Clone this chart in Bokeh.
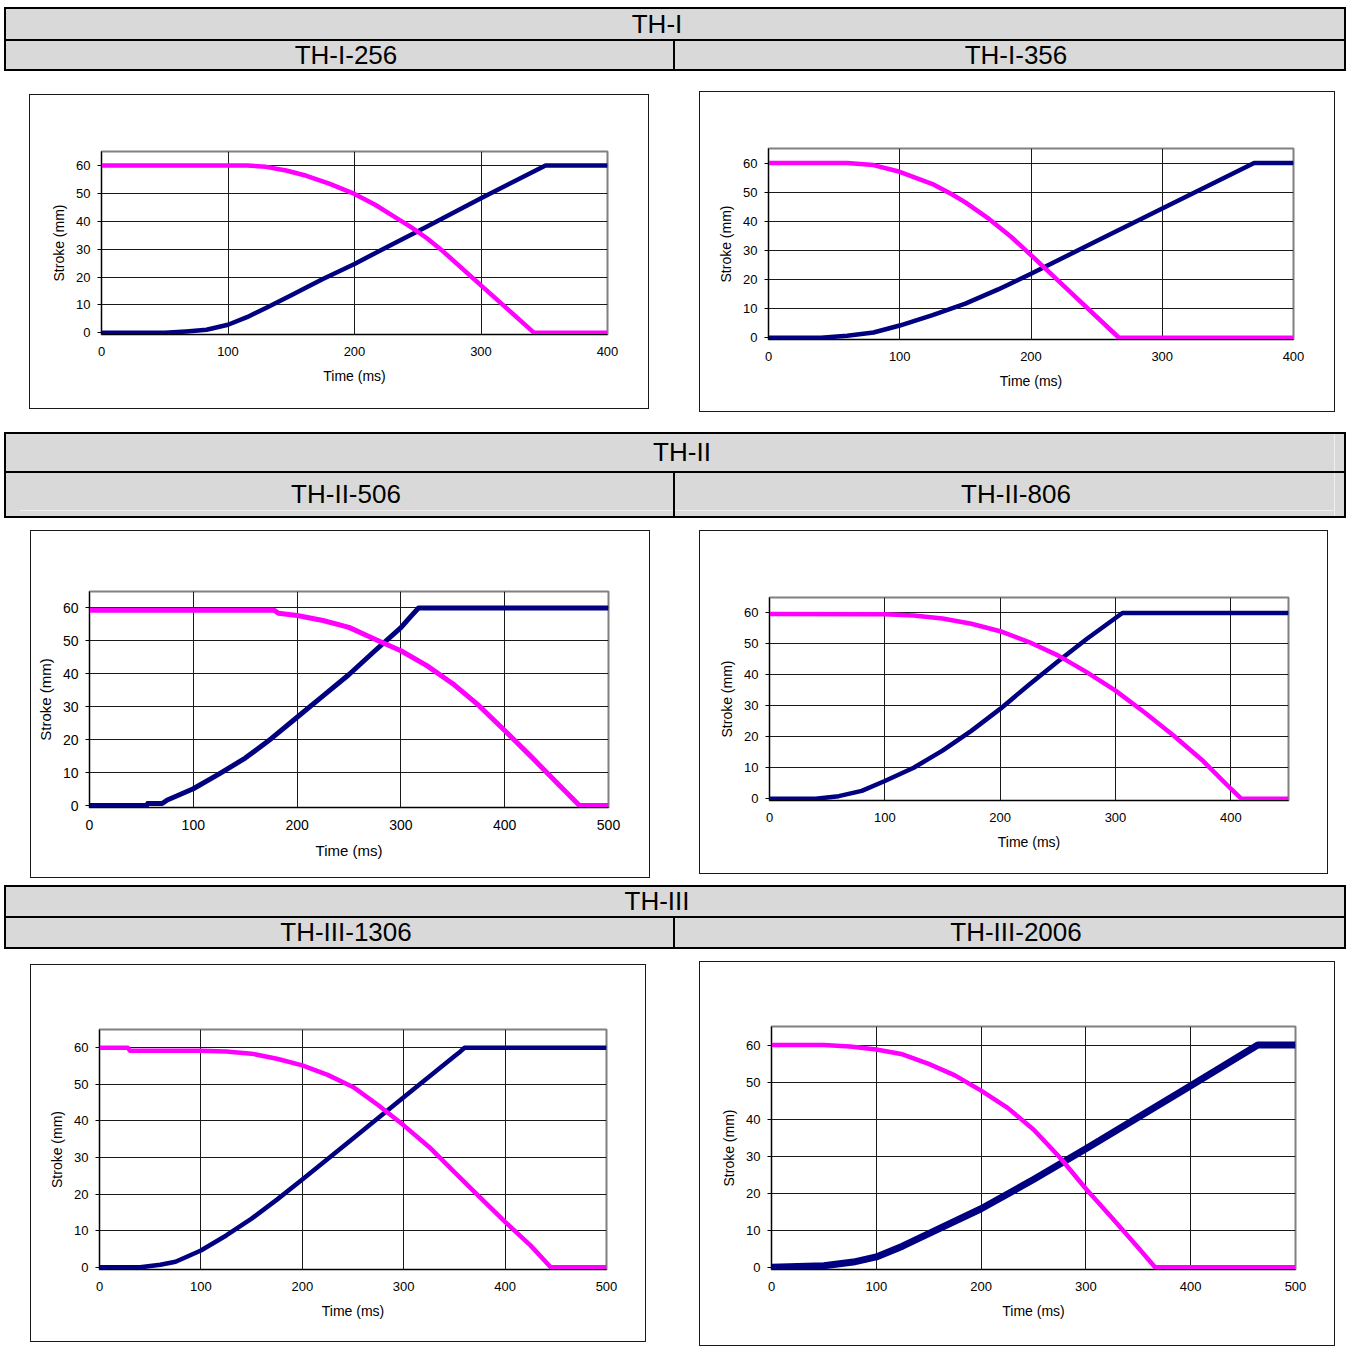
from bokeh.plotting import figure
from bokeh.models import Div, Spacer, Range1d, FixedTicker
from bokeh.layouts import column, row
from bokeh.embed import file_html
from bokeh.resources import INLINE

# ---------------- data (time in ms, stroke in mm) ----------------
th1_256_blue_t = [0, 50, 67, 83, 100, 115, 130, 150, 175, 200, 225, 257, 300, 351, 400]
th1_256_blue_s = [0, 0, 0.5, 1.1, 2.9, 5.6, 8.9, 13.5, 19.3, 24.7, 30.6, 38.0, 48.2, 60, 60]
th1_256_mag_t = [0, 115, 130, 146, 162, 180, 200, 216, 232, 245, 257, 270, 300, 342, 400]
th1_256_mag_s = [60, 60, 59.5, 58.2, 56.3, 53.5, 49.8, 46, 41.5, 37.8, 34.0, 29.2, 17, 0, 0]

th1_356_blue_t = [0, 40, 60, 80, 100, 125, 150, 175, 200, 250, 300, 370, 400]
th1_356_blue_s = [0, 0, 0.7, 1.8, 4.2, 7.8, 11.7, 16.6, 22, 33.2, 44.4, 60, 60]
th1_356_mag_t = [0, 60, 80, 100, 125, 140, 150, 168, 185, 200, 230, 267, 400]
th1_356_mag_s = [60, 60, 59.3, 57, 52.8, 49.2, 46.5, 40.8, 34.6, 28.4, 15.7, 0, 0]

th2_506_blue_t = [0, 55, 56, 70, 75, 100, 125, 150, 175, 200, 225, 250, 275, 300, 310, 317, 500]
th2_506_blue_s = [0, 0, 0.6, 0.6, 1.7, 5.1, 9.6, 14.4, 20.3, 26.8, 33.3, 39.8, 47.0, 54.0, 57.6, 60, 60]
th2_506_mag_t = [0, 178, 182, 200, 225, 250, 275, 300, 325, 350, 375, 400, 425, 450, 472, 500]
th2_506_mag_s = [59.3, 59.3, 58.4, 57.7, 56.2, 54.1, 50.5, 47, 42.5, 37, 30.4, 22.8, 15, 7, 0, 0]

th2_806_blue_t = [0, 40, 60, 80, 100, 125, 150, 175, 200, 225, 250, 275, 306, 450]
th2_806_blue_s = [0, 0, 0.8, 2.5, 5.7, 10, 15.5, 21.9, 29, 36.8, 44.3, 51.6, 60, 60]
th2_806_mag_t = [0, 100, 125, 150, 175, 200, 225, 250, 275, 300, 325, 350, 375, 400, 409, 450]
th2_806_mag_s = [59.7, 59.6, 59.2, 58.2, 56.5, 54.1, 50.6, 46.3, 40.9, 34.9, 27.9, 20.5, 12.5, 3.2, 0, 0]

th3_1306_blue_t = [0, 40, 60, 75, 100, 125, 150, 175, 200, 250, 300, 350, 356, 360, 500]
th3_1306_blue_s = [0, 0, 0.7, 1.5, 4.6, 8.7, 13.3, 18.5, 24, 35.2, 46.5, 57.7, 59, 60, 60]
th3_1306_mag_t = [0, 28, 30, 100, 125, 150, 175, 200, 225, 250, 275, 300, 325, 350, 375, 400, 425, 445, 500]
th3_1306_mag_s = [60, 60, 59.2, 59.2, 59, 58.4, 57, 55.2, 52.6, 49.3, 44.3, 38.8, 32.9, 26, 19.2, 12.4, 6, 0, 0]

th3_2006_blue_t = [0, 50, 78, 100, 125, 150, 200, 250, 300, 350, 400, 464, 500]
th3_2006_blue_s = [0, 0.4, 1.4, 2.8, 5.7, 9.1, 15.8, 23.7, 32, 40.5, 49, 60, 60]
th3_2006_mag_t = [0, 50, 75, 100, 125, 150, 175, 200, 225, 250, 275, 300, 325, 350, 366, 500]
th3_2006_mag_s = [60, 60, 59.6, 58.8, 57.5, 54.9, 51.8, 47.7, 43.1, 37.2, 29.7, 21.2, 13.3, 5.3, 0, 0]

stroke_ticks = [0, 10, 20, 30, 40, 50, 60]
time_ticks_400 = [0, 100, 200, 300, 400]
time_ticks_500 = [0, 100, 200, 300, 400, 500]

group_titles = ["TH-I", "TH-II", "TH-III"]
chart_titles = [["TH-I-256", "TH-I-356"], ["TH-II-506", "TH-II-806"], ["TH-III-1306", "TH-III-2006"]]

# ---------------- styling ----------------
NAVY = "#000080"
MAGENTA = "#FF00FF"
FONT = "Liberation Sans"
HEAD_BG = "#D9D9D9"
HEAD_X = 4
W = 1342


def make_chart(box, frame, xmax, xticks, bt, bs, mt, ms, blue_w=4.5, mag_w=4.5,
               tick_size="13px", title_size="14px"):
    L, T, R, B = box
    fl, ft, fr, fb = frame
    w = R - L + 1
    h = B - T + 1
    p = figure(width=w, height=h, output_backend="svg", toolbar_location=None,
               x_range=Range1d(0, xmax), y_range=Range1d(-0.6, 65),
               min_border_left=fl - L - 1, min_border_right=R - fr + 2,
               min_border_top=ft - T - 1, min_border_bottom=B - fb)
    p.styles = {"border": "1px solid #1a1a1a"}
    p.background_fill_color = "white"
    p.border_fill_color = "white"
    p.outline_line_color = "#808080"
    p.outline_line_width = 2

    p.xaxis.ticker = FixedTicker(ticks=xticks)
    p.yaxis.ticker = FixedTicker(ticks=stroke_ticks)
    p.xgrid.ticker = FixedTicker(ticks=[t for t in xticks if 0 < t < xmax])
    p.ygrid.ticker = FixedTicker(ticks=[t for t in stroke_ticks if t > 0])
    for g in (p.xgrid[0], p.ygrid[0]):
        g.grid_line_color = "#1a1a1a"
        g.grid_line_width = 1

    p.xaxis.axis_label = "Time (ms)"
    p.yaxis.axis_label = "Stroke (mm)"
    for ax in (p.xaxis[0], p.yaxis[0]):
        ax.axis_line_color = "black"
        ax.axis_line_width = 1
        ax.minor_tick_line_color = None
        ax.major_tick_line_color = "black"
        ax.major_tick_in = 0
        ax.major_label_text_font = FONT
        ax.major_label_text_font_size = tick_size
        ax.major_label_text_color = "black"
        ax.axis_label_text_font = FONT
        ax.axis_label_text_font_size = title_size
        ax.axis_label_text_font_style = "normal"
        ax.axis_label_text_color = "black"
    p.yaxis.major_tick_out = 4
    p.yaxis.major_label_standoff = 7
    p.yaxis.axis_label_standoff = 6
    p.xaxis.major_tick_out = 0
    p.xaxis.major_label_standoff = 12
    p.xaxis.axis_label_standoff = 9

    p.line(bt, bs, line_color=NAVY, line_width=blue_w, line_join="round")
    p.line(mt, ms, line_color=MAGENTA, line_width=mag_w, line_join="round")
    return p, L, T, w, h


def header(h, top_bar_end, title, title_cx, highlight=False):
    parts = []

    def rect(x, y, w, hh, color):
        parts.append(f'<div style="position:absolute;left:{x}px;top:{y}px;width:{w}px;'
                     f'height:{hh}px;background:{color}"></div>')

    def label(cx, y0, y1, txt):
        parts.append(f'<div style="position:absolute;left:{cx - 300}px;width:600px;top:{y0}px;'
                     f'height:{y1 - y0}px;line-height:{y1 - y0}px;text-align:center;'
                     f'font-family:\'{FONT}\',Arial,sans-serif;font-size:26px;color:#000;'
                     f'white-space:nowrap">{txt}</div>')

    rect(0, 0, W, h, HEAD_BG)
    if highlight:
        rect(W - 12, 2, 1, h - 4, "#efefef")
        rect(16, h - 8, W - 28, 1, "#efefef")
    rect(0, 0, W, 2, "#000")
    rect(0, h - 2, W, 2, "#000")
    rect(0, 0, 2, h, "#000")
    rect(W - 2, 0, 2, h, "#000")
    rect(0, top_bar_end, W, 2, "#000")
    rect(669, top_bar_end, 2, h - top_bar_end, "#000")
    label(title_cx, 2, top_bar_end, title[0])
    label(342, top_bar_end + 2, h - 2, title[1])
    label(1012, top_bar_end + 2, h - 2, title[2])
    html = (f'<div style="position:relative;width:{W}px;height:{h}px;overflow:hidden">'
            + "".join(parts) + "</div>")
    d = Div(text=html, width=W, height=h, styles={"margin": "0", "padding": "0"})
    return row([Spacer(width=HEAD_X, height=h), d], spacing=0)


def chart_row(y0, height, items):
    children = []
    cur = 0
    for (p, lx, ty, ow, oh) in items:
        off = ty - y0
        if lx > cur:
            children.append(Spacer(width=lx - cur, height=height))
        kids = []
        if off > 0:
            kids.append(Spacer(width=ow, height=off))
        kids.append(p)
        rest = height - off - oh
        if rest > 0:
            kids.append(Spacer(width=ow, height=rest))
        children.append(column(kids, spacing=0))
        cur = lx + ow
    return row(children, spacing=0)


c1 = make_chart((29, 94, 648, 408), (101, 151, 607, 332), 400, time_ticks_400,
                th1_256_blue_t, th1_256_blue_s, th1_256_mag_t, th1_256_mag_s)
c2 = make_chart((699, 91, 1334, 411), (768, 148, 1293, 337), 400, time_ticks_400,
                th1_356_blue_t, th1_356_blue_s, th1_356_mag_t, th1_356_mag_s)
c3 = make_chart((30, 530, 649, 877), (89, 591, 608, 805), 500, time_ticks_500,
                th2_506_blue_t, th2_506_blue_s, th2_506_mag_t, th2_506_mag_s,
                blue_w=5, mag_w=5, tick_size="14px", title_size="15px")
c4 = make_chart((699, 530, 1327, 873), (769, 597, 1288, 798), 450, time_ticks_400,
                th2_806_blue_t, th2_806_blue_s, th2_806_mag_t, th2_806_mag_s)
c5 = make_chart((30, 964, 645, 1341), (99, 1029, 606, 1267), 500, time_ticks_500,
                th3_1306_blue_t, th3_1306_blue_s, th3_1306_mag_t, th3_1306_mag_s)
c6 = make_chart((699, 961, 1334, 1345), (771, 1026, 1295, 1267), 500, time_ticks_500,
                th3_2006_blue_t, th3_2006_blue_s, th3_2006_mag_t, th3_2006_mag_s,
                blue_w=7)

top = Spacer(width=10, height=7)
hd1 = header(64, 32, [group_titles[0]] + chart_titles[0], 653)
r1 = chart_row(71, 361, [c1, c2])
hd2 = header(86, 39, [group_titles[1]] + chart_titles[1], 678, highlight=True)
r2 = chart_row(518, 367, [c3, c4])
hd3 = header(64, 31, [group_titles[2]] + chart_titles[2], 653)
r3 = chart_row(949, 398, [c5, c6])

layout = column([top, hd1, r1, hd2, r2, hd3, r3], spacing=0)

open("out.html", "w").write(file_html(layout, INLINE))
